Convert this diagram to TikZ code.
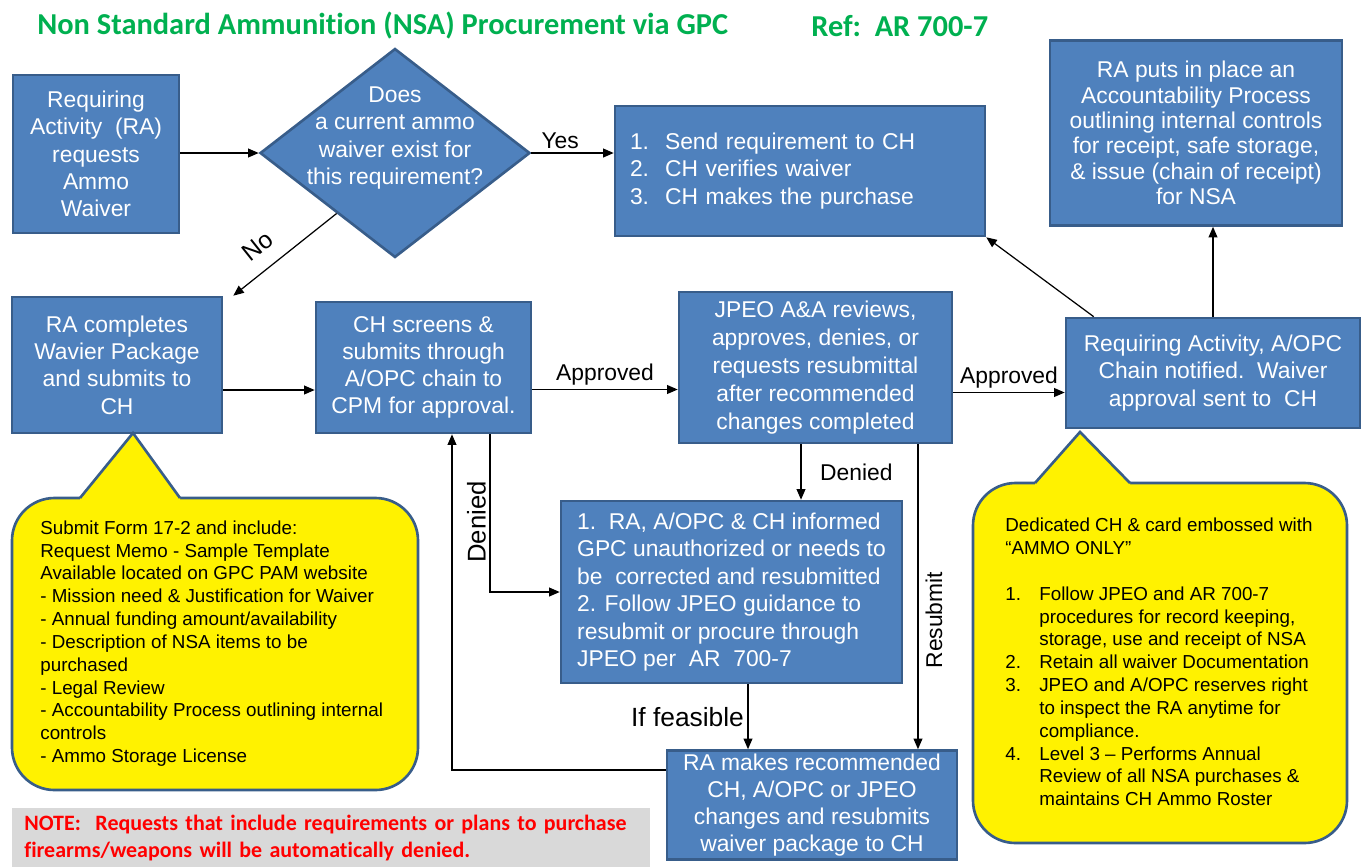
\documentclass[tikz,border=0pt]{standalone}
\usepackage{fontspec}
\setmainfont{Liberation Sans}
\newfontfamily\calibrifont[Ligatures=NoCommon]{Carlito}
\usetikzlibrary{shapes.geometric,arrows.meta}
\definecolor{boxfill}{RGB}{79,129,189}
\definecolor{boxedge}{RGB}{56,93,138}
\definecolor{titlegreen}{RGB}{0,176,80}
\definecolor{notegray}{RGB}{217,217,217}
\colorlet{calloutfill}{yellow}

\tikzset{
  box/.style={draw=boxedge, fill=boxfill, line width=1.5pt, text=white,
    align=center, inner sep=0pt, font=\fontsize{13}{15.5}\selectfont},
  decision/.style={diamond, draw=boxedge, fill=boxfill, line width=1.5pt,
    inner sep=0pt, minimum width=5.4cm, minimum height=4.18cm},
  callout/.style={draw=boxedge, fill=calloutfill, line width=1.5pt, rounded corners=0.85cm},
  tailedge/.style={draw=boxedge, line width=1.5pt},
  callouttext/.style={align=left, inner sep=0pt, font=\fontsize{10.7}{13}\selectfont},
  flow/.style={draw=black, line width=0.7pt, -{Triangle[length=6pt,width=5pt]}},
  flowlabel/.style={font=\fontsize{13}{15}\selectfont, inner sep=2pt},
  heading/.style={text=titlegreen, inner sep=0pt, font=\calibrifont\bfseries\fontsize{17.3}{20}\selectfont},
  notebox/.style={fill=notegray, text=red, align=left, inner xsep=0.24cm,
    font=\calibrifont\bfseries\fontsize{12.5}{15.3}\selectfont}
}

\begin{document}
\begin{tikzpicture}[x=0.02cm, y=-0.02cm]
\useasboundingbox (0,0) rectangle (1363,867);

% title line
\node[heading, anchor=west] (title) at (37,26) {Non Standard Ammunition (NSA) Procurement via GPC};
\node[heading, anchor=west] (ref) at (811,26) {Ref:\ \ AR 700-7};

% top row
\node[box, minimum width=3.32cm, minimum height=3.16cm] (request) at (96,154)
  {Requiring\\Activity\ \ (RA)\\requests\\Ammo\\Waiver};
\node[decision] (exists) at (395,153) {};
\node[text=white, align=center, font=\fontsize{13}{15.5}\selectfont] (existstext) at (395,138)
  {Does\\a current ammo\\waiver exist for\\this requirement?};
\node[box, align=left, inner xsep=0.3cm, text width=6.8cm, minimum height=2.6cm] (purchase) at (800,171)
  {\makebox[0.7cm][l]{1.}Send requirement to CH\\
   \makebox[0.7cm][l]{2.}CH verifies waiver\\
   \makebox[0.7cm][l]{3.}CH makes the purchase};
\node[box, minimum width=5.84cm, minimum height=3.7cm, font=\fontsize{13}{14.4}\selectfont] (control) at (1196,133)
  {RA puts in place an\\Accountability Process\\outlining internal controls\\for receipt, safe storage,\\\& issue (chain of receipt)\\for NSA};

% middle row
\node[box, minimum width=4.2cm, minimum height=2.72cm] (package) at (117,365)
  {RA completes\\Wavier Package\\and submits to\\CH};
\node[box, minimum width=4.3cm, minimum height=2.62cm] (screen) at (423.5,367.5)
  {CH screens \&\\submits through\\A/OPC chain to\\CPM for approval.};
\node[box, minimum width=5.46cm, minimum height=3.02cm, font=\fontsize{13}{15.9}\selectfont] (review) at (815.5,367.5)
  {JPEO A\&A reviews,\\approves, denies, or\\requests resubmittal\\after recommended\\changes completed};
\node[box, minimum width=5.88cm, minimum height=2.2cm] (notified) at (1213,373)
  {Requiring Activity, A/OPC\\Chain notified.\ \ Waiver\\approval sent to\ \ CH};

% lower row
\node[box, align=left, minimum width=6.82cm, minimum height=3.64cm,
  font=\fontsize{13}{15.6}\selectfont] (informed) at (731.5,592)
  {1.\ \ RA, A/OPC \& CH informed\\
   GPC unauthorized or needs to\\
   be\ \ corrected and resubmitted\\
   2. Follow JPEO guidance to\\
   resubmit or procure through\\
   JPEO per\ \ AR\ \ 700-7};
\node[box, minimum width=5.8cm, minimum height=2.18cm] (resubmit) at (812,805)
  {RA makes recommended\\CH, A/OPC or JPEO\\changes and resubmits\\waiver package to CH};

% callouts
\draw[callout] (12,498) rectangle (418,790);
\fill[calloutfill] (80,498) -- (133,433) -- (180,498) -- (180,501) -- (80,501) -- cycle;
\draw[tailedge] (80,498) -- (133,433) -- (180,498);
\node[callouttext, anchor=west] (formlist) at (40,643.5)
  {Submit Form 17-2 and include:\\
   Request Memo - Sample Template\\
   Available located on GPC PAM website\\
   - Mission need \& Justification for Waiver\\
   - Annual funding amount/availability\\
   - Description of NSA items to be\\
   purchased\\
   - Legal Review\\
   - Accountability Process outlining internal\\
   controls\\
   - Ammo Storage License};

\draw[callout] (973,483) rectangle (1347,843);
\fill[calloutfill] (1035,483) -- (1080,432) -- (1130,483) -- (1130,486) -- (1035,486) -- cycle;
\draw[tailedge] (1035,483) -- (1080,432) -- (1130,483);
\node[callouttext, anchor=west] (cardlist) at (1005,662)
  {Dedicated CH \& card embossed with\\
   “AMMO ONLY”\\[13pt]
   \makebox[0.68cm][l]{1.}Follow JPEO and AR 700-7\\
   \hspace*{0.68cm}procedures for record keeping,\\
   \hspace*{0.68cm}storage, use and receipt of NSA\\
   \makebox[0.68cm][l]{2.}Retain all waiver Documentation\\
   \makebox[0.68cm][l]{3.}JPEO and A/OPC reserves right\\
   \hspace*{0.68cm}to inspect the RA anytime for\\
   \hspace*{0.68cm}compliance.\\
   \makebox[0.68cm][l]{4.}Level 3 – Performs Annual\\
   \hspace*{0.68cm}Review of all NSA purchases \&\\
   \hspace*{0.68cm}maintains CH Ammo Roster};

% note
\node[notebox, anchor=north west, text width=12.28cm, minimum height=1.18cm] (note) at (12,808)
  {NOTE:\ \ Requests that include requirements or plans to purchase\\
   firearms/weapons will be automatically denied.};

% connectors
\draw[flow] (request.east |- exists.west) -- (exists.west);
\draw[flow] (exists.east) -- node[flowlabel, above, pos=0.35] {Yes} (exists.east -| purchase.west);
\draw[flow] (exists.-134) -- node[flowlabel, sloped, above=6pt, pos=0.62, font=\fontsize{14}{16}\selectfont] {No} ([xshift=0.2cm]package.north east);
\draw[flow] ([yshift=-0.5cm]package.east) -- ([yshift=-0.5cm]package.east -| screen.west);
\draw[flow] ([yshift=-0.44cm]screen.east) -- node[flowlabel, above] {Approved} ([yshift=-0.44cm]screen.east -| review.west);
\draw[flow] ([yshift=-0.5cm]review.east) -- node[flowlabel, above] {Approved} ([yshift=-0.5cm]review.east -| notified.west);
\draw[flow] ([xshift=0.58cm]notified.north west) -- (purchase.south east);
\draw[flow] (notified.north) -- (notified.north |- control.south);
\draw[flow] ([xshift=-0.29cm]review.south) -- node[flowlabel, right, xshift=0.3cm] {Denied} ([xshift=-0.29cm]review.south |- informed.north);
\draw[flow] ([xshift=1.33cm]screen.south) |- node[flowlabel, rotate=90, anchor=south, pos=0.278, font=\fontsize{14.6}{16}\selectfont] {Denied} (informed.west);
\draw[flow] ([xshift=0.33cm]informed.south) -- node[flowlabel, left, font=\fontsize{15}{17}\selectfont] {If feasible} ([xshift=0.33cm]informed.south |- resubmit.north);
\draw[flow] ([xshift=2.05cm]review.south) -- node[flowlabel, rotate=90, anchor=north, pos=0.577, inner sep=4pt] {Resubmit} ([xshift=2.05cm]review.south |- resubmit.north);
\draw[flow] ([yshift=0.7cm]resubmit.west) -| ([xshift=0.57cm]screen.south);
\end{tikzpicture}
\end{document}
